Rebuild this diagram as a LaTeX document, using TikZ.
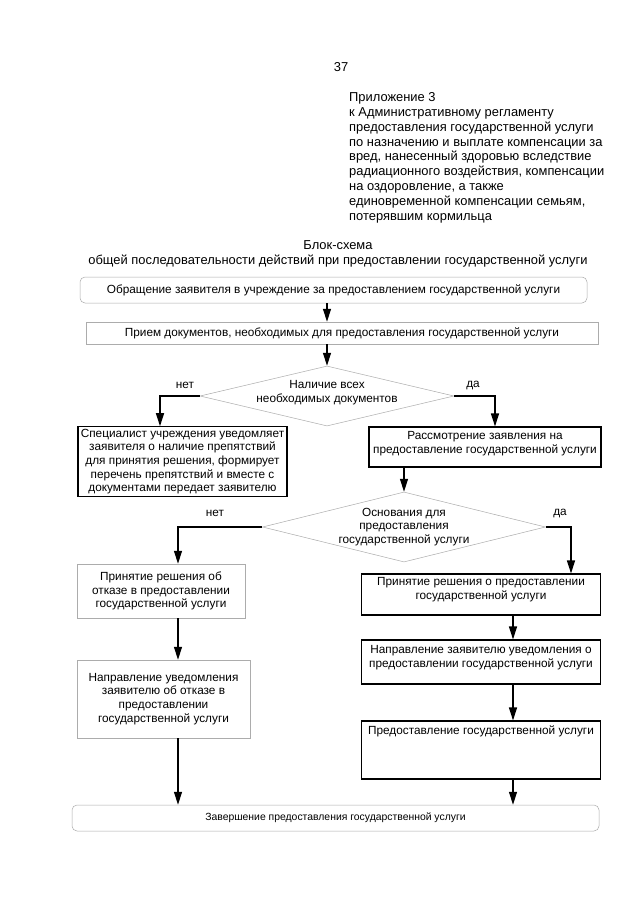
\documentclass[tikz,border=0pt]{standalone}
\usepackage{fontspec}
\setmainfont{Liberation Sans}
\usetikzlibrary{arrows.meta, shapes.geometric, positioning}

\newcommand{\headFont}{\fontsize{12.9pt}{14.8pt}\selectfont}
\newcommand{\boxFont}{\fontsize{11.8pt}{13.7pt}\selectfont}
\newcommand{\finishFont}{\fontsize{10.4pt}{12pt}\selectfont}

\tikzstyle{plain} = [inner sep=0pt, font=\headFont]
\tikzstyle{thinBox} = [draw=gray!65, line width=0.5pt, rectangle, align=center,
   inner sep=2pt, font=\boxFont]
\tikzstyle{roundBox} = [thinBox, rounded corners=5pt]
\tikzstyle{thickBox} = [draw, line width=1.1pt, rectangle, align=center,
   inner sep=2pt, font=\boxFont]
\tikzstyle{decision} = [draw=gray!65, line width=0.5pt, diamond, inner sep=0pt]
\tikzstyle{diaText} = [align=center, inner sep=0pt, font=\boxFont]
\tikzstyle{answer} = [inner sep=0pt, font=\boxFont]
\tikzstyle{flowArrow} = [line width=1.4pt, -{Triangle[length=13pt,width=8pt]}]

\begin{document}
\begin{tikzpicture}[x=1pt, y=-1pt]
  \fill[white] (0,0) rectangle (640,905);
  \useasboundingbox (0,0) rectangle (640,905);

  % header
  \node[plain] (pagenum) at (341,67) {37};
  \node[plain, align=left, anchor=north west] (appendix) at (349,92.5)
    {Приложение 3\\
     к Административному регламенту\\
     предоставления государственной услуги\\
     по назначению и выплате компенсации за\\
     вред, нанесенный здоровью вследствие\\
     радиационного воздействия, компенсации\\
     на оздоровление, а также\\
     единовременной компенсации семьям,\\
     потерявшим кормильца};
  \node[plain, align=center] (title) at (338,253.5)
    {Блок-схема\\общей последовательности действий при предоставлении государственной услуги};

  % process boxes
  \node[roundBox, minimum width=507pt, minimum height=26pt] (appeal) at (333.5,290)
    {Обращение заявителя в учреждение за предоставлением государственной услуги};
  \node[thinBox, minimum width=512pt, minimum height=22pt] (intake) at (342,333)
    {Прием документов, необходимых для предоставления государственной услуги};
  \node[decision, minimum width=254pt, minimum height=60pt,
    label={[diaText, yshift=3pt]center:Наличие всех\\необходимых документов}] (docsCheck) at (327,396) {};
  \node[thickBox, minimum width=209pt, minimum height=69pt] (obstacles) at (182.5,461.5)
    {Специалист учреждения уведомляет\\заявителя о наличие препятствий\\для принятия решения, формирует\\перечень препятствий и вместе с\\документами передает заявителю};
  \node[thickBox, minimum width=232pt, minimum height=40pt, text depth=9pt] (review) at (485,447)
    {Рассмотрение заявления на\\предоставление государственной услуги};
  \node[decision, minimum width=283pt, minimum height=70pt,
    label={[diaText]center:Основания для\\предоставления\\государственной услуги}] (grounds) at (404,527) {};
  \node[thinBox, minimum width=168pt, minimum height=54pt] (refusal) at (161,591)
    {Принятие решения об\\отказе в предоставлении\\государственной услуги};
  \node[thickBox, minimum width=239pt, minimum height=41pt, text depth=12pt] (grant) at (481,594.5)
    {Принятие решения о предоставлении\\государственной услуги};
  \node[thickBox, minimum width=239pt, minimum height=44pt, text depth=11pt] (grantNote) at (481,662)
    {Направление заявителю уведомления о\\предоставлении государственной услуги};
  \node[thickBox, minimum width=239pt, minimum height=58pt, text depth=40pt] (provide) at (481,750)
    {Предоставление государственной услуги};
  \node[thinBox, minimum width=173pt, minimum height=78pt] (refusalNote) at (163.5,699)
    {Направление уведомления\\заявителю об отказе в\\предоставлении\\государственной услуги};
  \node[roundBox, minimum width=527pt, minimum height=26pt, font=\finishFont] (finish) at (335.5,818)
    {Завершение предоставления государственной услуги};

  % branch labels
  \node[answer] (no1) at (185,385) {нет};
  \node[answer] (yes1) at (473,385) {да};
  \node[answer] (no2) at (215,513) {нет};
  \node[answer] (yes2) at (560,513) {да};

  % connectors
  \draw[flowArrow] (appeal.south -| docsCheck.north) -- (intake.north -| docsCheck.north);
  \draw[flowArrow] (intake.south -| docsCheck.north) -- (docsCheck.north);
  \draw[flowArrow] (docsCheck.west) -| ([xshift=-22.5pt]obstacles.north);
  \draw[flowArrow] (docsCheck.east) -| ([xshift=10pt]review.north);
  \draw[flowArrow] (review.south -| grounds.north) -- (grounds.north);
  \draw[flowArrow] (grounds.west) -| ([xshift=17pt]refusal.north);
  \draw[flowArrow] (grounds.east) -| ([xshift=90pt]grant.north);
  \draw[flowArrow] ([xshift=17pt]refusal.south) -- ([xshift=17pt]refusal.south |- refusalNote.north);
  \draw[flowArrow] ([xshift=14.5pt]refusalNote.south) -- ([xshift=14.5pt]refusalNote.south |- finish.north);
  \draw[flowArrow] ([xshift=32pt]grant.south) -- ([xshift=32pt]grant.south |- grantNote.north);
  \draw[flowArrow] ([xshift=32pt]grantNote.south) -- ([xshift=32pt]grantNote.south |- provide.north);
  \draw[flowArrow] ([xshift=32pt]provide.south) -- ([xshift=32pt]provide.south |- finish.north);
\end{tikzpicture}
\end{document}
